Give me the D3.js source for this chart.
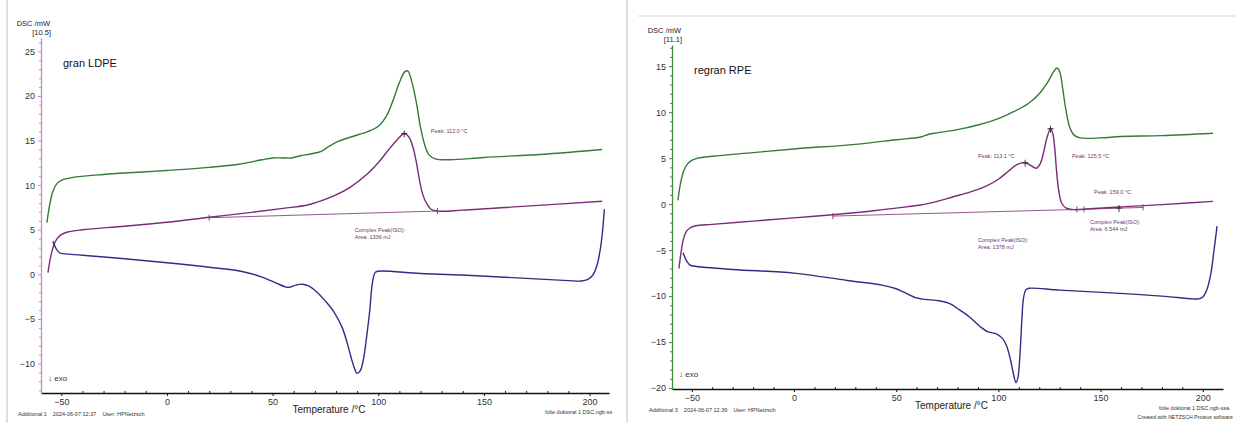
<!DOCTYPE html>
<html>
<head>
<meta charset="utf-8">
<script src="https://cdn.jsdelivr.net/npm/d3@7"></script>
<style>
  body { margin: 0; background: #fff; }
  svg { display: block; font-family: "Liberation Sans", Arial, sans-serif; }
</style>
</head>
<body>
<div id="chart"></div>
<script>
// ---- data: [temperature °C, DSC mW] ----
const ldpeHeat2 = [[-56.8,5.8],[-55.5,7.8],[-54,9.3],[-52,10.2],[-50,10.55],[-45,10.85],[-30,11.2],[-10,11.5],[0,11.65],[20,12.0],[34,12.35],[45,12.85],[50,13.05],[55,13.05],[59,13.05],[63,13.3],[68,13.5],[73,13.8],[77,14.4],[81,14.9],[87,15.4],[95,16.0],[100,16.6],[104,17.8],[107,19.5],[110,21.5],[112.5,22.7],[114,22.8],[116,21.5],[118,19.3],[120,16.5],[122,14.5],[124,13.4],[127,12.95],[134,12.85],[150,13.1],[180,13.5],[206,14.0]];
const ldpeHeat1 = [[-56.3,0.2],[-55,2.0],[-53.5,3.3],[-52,4.0],[-50,4.45],[-47,4.75],[-40,5.0],[-20,5.4],[0,5.85],[20,6.4],[40,6.95],[55,7.4],[67,7.8],[80,8.9],[87,9.8],[95,11.3],[101,12.8],[105,14.0],[109,15.1],[112.3,15.8],[114.5,15.4],[116.5,14.2],[118,12.6],[119.5,10.6],[121,9.0],[123,7.9],[125,7.3],[128,7.1],[140,7.2],[170,7.65],[206,8.2]];
const ldpeCool = [[-54,3.7],[-52.5,2.9],[-51,2.45],[-50,2.35],[-40,2.15],[-20,1.75],[0,1.3],[20,0.8],[35,0.35],[45,-0.3],[52,-1.0],[56,-1.4],[58,-1.45],[61,-1.2],[64,-1.1],[67,-1.3],[71,-2.0],[75,-3.0],[79,-4.2],[83,-6.0],[86,-8.3],[88,-10.0],[90,-11.1],[91.5,-10.8],[93,-9.5],[94.5,-7.0],[96,-4.0],[97.2,-1.0],[98.5,0.2],[100,0.35],[120,0.1],[142,-0.1],[170,-0.45],[190,-0.7],[196,-0.75],[199,-0.6],[201.5,-0.1],[203.5,1.0],[205,2.7],[206,4.5],[207,7.3]];
const ldpeBaselines = [[[20,6.35],[128,7.1]]];
const ldpePeaks = [[112.3,15.8]];

const rpeHeat2 = [[-56.8,0.4],[-55.5,2.3],[-54,3.6],[-52,4.4],[-50,4.75],[-47,5.0],[-40,5.2],[-20,5.6],[0,6.0],[30,6.5],[50,7.0],[62,7.3],[66,7.6],[70,7.75],[80,8.1],[90,8.6],[100,9.3],[108,10.1],[115,11.0],[120,12.0],[124,13.2],[127,14.4],[128.6,14.8],[130,14.4],[131.5,12.5],[133,10.3],[135,8.3],[137,7.5],[140,7.2],[150,7.2],[160,7.35],[180,7.45],[205,7.7]];
const rpeHeat1 = [[-56.3,-7.0],[-55.3,-5.3],[-54.3,-4.0],[-53,-3.1],[-51,-2.6],[-48,-2.35],[-40,-2.2],[-20,-1.85],[0,-1.5],[19,-1.15],[40,-0.7],[55,-0.3],[62,-0.1],[70,0.3],[78,0.8],[86,1.3],[94,1.95],[100,2.7],[105,3.6],[109,4.3],[113.1,4.5],[115.5,4.25],[118.5,3.9],[120.5,4.4],[122,5.5],[123.5,7.0],[125.5,8.2],[126.7,7.6],[127.6,6.0],[128.5,3.5],[129.5,1.5],[131,0.1],[133,-0.4],[137,-0.6],[145,-0.5],[160,-0.3],[180,-0.05],[205,0.3]];
const rpeCool = [[-54.3,-5.3],[-52.5,-6.2],[-51,-6.6],[-50,-6.7],[-30,-7.1],[0,-7.5],[26,-8.3],[43,-8.8],[50,-9.2],[54,-9.6],[60,-10.2],[64,-10.35],[71,-10.5],[76,-10.8],[81,-11.5],[86,-12.3],[91,-13.3],[95,-13.9],[99,-14.1],[102,-14.6],[104,-15.4],[106,-17.0],[107.5,-18.6],[108.6,-19.4],[109.6,-18.8],[110.6,-16.2],[111.5,-12.5],[112.3,-10.2],[113.5,-9.3],[115,-9.15],[130,-9.35],[159.5,-9.7],[180,-10.0],[195,-10.3],[198,-10.3],[200,-10.1],[202,-9.3],[204,-7.5],[205.5,-5.0],[207,-2.4]];
const rpeBaselines = [[[19,-1.3],[138.4,-0.58]], [[141.9,-0.56],[170.8,-0.36]]];
const rpePeaks = [[113.1,4.5],[125.5,8.2],[159,-0.43]];

const xTicks = [-50, 0, 50, 100, 150, 200];
const ldpeYTicks = [-10, -5, 0, 5, 10, 15, 20, 25];
const rpeYTicks = [-20, -15, -10, -5, 0, 5, 10, 15];

// annotations: [T, DSC, text]
const ldpeNotes = [[124.9,15.8,"Peak: 112.0 °C"],[88.9,4.7,"Complex Peak(ISO):"],[88.9,4.0,"Area: 1336 mJ"]];
const rpeNotes = [[90,5.0,"Peak: 113.1 °C"],[136,5.0,"Peak: 125.5 °C"],[146.8,1.1,"Peak: 159.0 °C"],[144.8,-2.2,"Complex Peak(ISO):"],[144.8,-2.95,"Area: 6.544 mJ"],[90,-4.1,"Complex Peak(ISO):"],[90,-4.85,"Area: 1378 mJ"]];

const GREEN = "#357a35", PURPLE = "#7a2c78", BLUE = "#2e2e86";

const panels = [
  {
    title: "gran LDPE", range: "[10.5]", axisColor: "#c98ac9",
    left: 41, right: 609, top: 38, bottom: 393,
    xDomain: [-59.6, 209.2], yDomain: [-13.3, 26.5], yTicks: ldpeYTicks,
    heat2: ldpeHeat2, heat1: ldpeHeat1, cool: ldpeCool,
    baselines: ldpeBaselines, peaks: ldpePeaks, notes: ldpeNotes,
    footer: "Additional 1    2024-06-07 12:37    User: HPNetzsch",
    file: "folie doktorat 1 DSC.ngb-ss", created: null,
    borderX: 7, borderTop: null
  },
  {
    title: "regran RPE", range: "[11.1]", axisColor: "#3c8c3c",
    left: 672, right: 1223, top: 45, bottom: 389,
    xDomain: [-59.7, 209.9], yDomain: [-20.1, 17.3], yTicks: rpeYTicks,
    heat2: rpeHeat2, heat1: rpeHeat1, cool: rpeCool,
    baselines: rpeBaselines, peaks: rpePeaks, notes: rpeNotes,
    footer: "Additional 3    2024-06-07 12:39    User: HPNetzsch",
    file: "folie doktorat 1 DSC.ngb-ssa", created: "Created with NETZSCH Proteus software",
    borderX: 627, borderTop: 16
  }
];

const svg = d3.select("#chart").append("svg")
  .attr("width", 1236).attr("height", 423);

function drawPanel(p) {
  const g = svg.append("g");
  const x = d3.scaleLinear().domain(p.xDomain).range([p.left, p.right]);
  const y = d3.scaleLinear().domain(p.yDomain).range([p.bottom, p.top]);

  // panel frame lines
  g.append("line").attr("x1", p.borderX).attr("x2", p.borderX).attr("y1", 0).attr("y2", 423)
    .attr("stroke", "#d4d4d4").attr("stroke-width", 1.5);
  if (p.borderTop !== null) {
    g.append("line").attr("x1", p.borderX + 11).attr("x2", 1236)
      .attr("y1", p.borderTop).attr("y2", p.borderTop)
      .attr("stroke", "#e4e4e4").attr("stroke-width", 1.5);
  }

  // x axis
  const xMinor = d3.range(-50, 210, 10).filter(v => !xTicks.includes(v));
  g.append("g").attr("transform", `translate(0,${p.bottom})`)
    .call(d3.axisBottom(x).tickValues(xMinor).tickSize(-2).tickSizeOuter(0).tickFormat(""))
    .call(a => a.select(".domain").remove())
    .selectAll("line").attr("stroke", "#222");
  const xa = g.append("g").attr("transform", `translate(0,${p.bottom})`)
    .call(d3.axisBottom(x).tickValues(xTicks).tickSize(3).tickSizeOuter(0).tickPadding(3));
  xa.select(".domain").attr("stroke", "#111").attr("stroke-width", 1.3);
  xa.selectAll("line").attr("stroke", "#111");
  xa.selectAll("text").attr("font-size", 9).attr("fill", "#333")
    .attr("font-family", "Liberation Sans, Arial, sans-serif");

  // y axis
  const yMinor = d3.range(Math.ceil(p.yDomain[0]), p.yDomain[1], 1).filter(v => v % 5 !== 0);
  g.append("g").attr("transform", `translate(${p.left},0)`)
    .call(d3.axisLeft(y).tickValues(yMinor).tickSize(2).tickSizeOuter(0).tickFormat(""))
    .call(a => a.select(".domain").remove())
    .selectAll("line").attr("stroke", p.axisColor);
  const ya = g.append("g").attr("transform", `translate(${p.left},0)`)
    .call(d3.axisLeft(y).tickValues(p.yTicks).tickSize(3).tickSizeOuter(0).tickPadding(3));
  ya.select(".domain").attr("stroke", p.axisColor).attr("stroke-width", 1.3);
  ya.selectAll("line").attr("stroke", p.axisColor);
  ya.selectAll("text").attr("font-size", 9).attr("fill", "#333")
    .attr("font-family", "Liberation Sans, Arial, sans-serif");

  // axis titles
  g.append("text").attr("x", p.left + 9).attr("y", p.top - 12).attr("text-anchor", "end")
    .attr("font-size", 7.5).attr("fill", "#222").text("DSC /mW");
  g.append("text").attr("x", p.left + 10).attr("y", p.top - 3).attr("text-anchor", "end")
    .attr("font-size", 7.5).attr("fill", "#222").text(p.range);
  g.append("text").attr("x", (p.left + p.right) / 2 + 4).attr("y", p.bottom + 20)
    .attr("text-anchor", "middle").attr("font-size", 10).attr("fill", "#222")
    .text("Temperature /°C");
  g.append("text").attr("x", p.left + 22).attr("y", p.top + 29)
    .attr("font-size", 11).attr("fill", "#111").text(p.title);
  g.append("text").attr("x", p.left + 7).attr("y", p.bottom - 12)
    .attr("font-size", 8).attr("fill", "#333").text("↓ exo");

  // footer
  g.append("text").attr("x", p.left - 23).attr("y", p.bottom + 23)
    .attr("font-size", 5.5).attr("fill", "#333").style("white-space", "pre").text(p.footer);
  g.append("text").attr("x", p.right - 64).attr("y", p.bottom + 21)
    .attr("font-size", 5.5).attr("fill", "#333").text(p.file);
  if (p.created) {
    g.append("text").attr("x", 1233).attr("y", p.bottom + 30).attr("text-anchor", "end")
      .attr("font-size", 5.2).attr("fill", "#333").text(p.created);
  }

  const line = d3.line().x(d => x(d[0])).y(d => y(d[1]))
    .curve(d3.curveCatmullRom.alpha(0.5));

  // baselines of the peak integration
  p.baselines.forEach(b => {
    g.append("path").attr("d", d3.line().x(d => x(d[0])).y(d => y(d[1]))(b))
      .attr("fill", "none").attr("stroke", PURPLE).attr("stroke-width", 0.8);
    b.forEach(pt => {
      g.append("line").attr("x1", x(pt[0])).attr("x2", x(pt[0]))
        .attr("y1", y(pt[1]) - 3).attr("y2", y(pt[1]) + 3)
        .attr("stroke", PURPLE).attr("stroke-width", 0.9);
    });
  });

  [[p.heat2, GREEN], [p.heat1, PURPLE], [p.cool, BLUE]].forEach(([data, c]) => {
    g.append("path").datum(data).attr("d", line)
      .attr("fill", "none").attr("stroke", c).attr("stroke-width", 1.4);
  });

  // peak markers
  p.peaks.forEach(pt => {
    const cx = x(pt[0]), cy = y(pt[1]);
    g.append("path").attr("d", `M${cx - 3},${cy}H${cx + 3}M${cx},${cy - 3}V${cy + 4}`)
      .attr("stroke", "#222").attr("stroke-width", 0.9);
  });

  g.selectAll(".note").data(p.notes).join("text").attr("class", "note")
    .attr("x", d => x(d[0])).attr("y", d => y(d[1]))
    .attr("font-size", 5.5).attr("fill", "#6a3a6a").text(d => d[2]);
}

panels.forEach(drawPanel);
</script>
</body>
</html>
